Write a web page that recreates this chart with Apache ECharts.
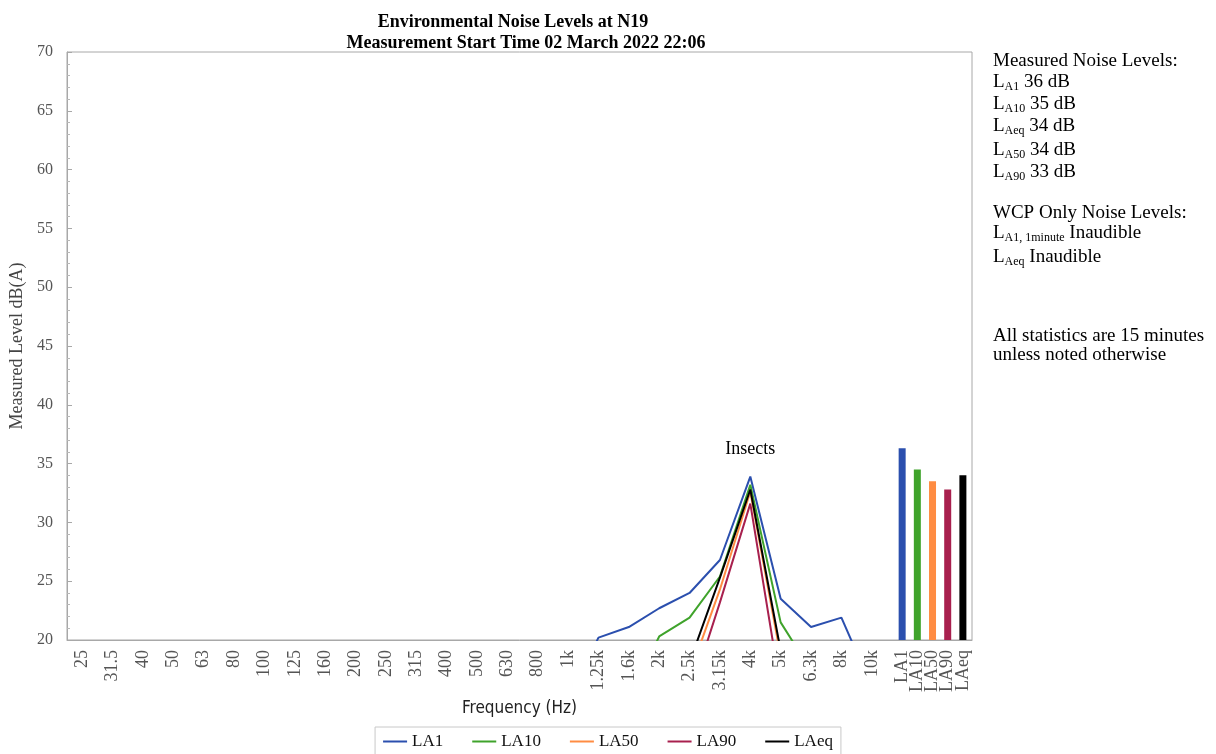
<!DOCTYPE html>
<html>
<head>
<meta charset="utf-8">
<script src="https://cdn.jsdelivr.net/npm/echarts@6/dist/echarts.min.js"></script>
<style>
html,body{margin:0;padding:0;background:#fff;}
#chart{width:1216px;height:754px;}
</style>
</head>
<body>
<div id="chart"></div>
<script>
// ---- data ----
const freqLabels = ['25','31.5','40','50','63','80','100','125','160','200','250','315','400','500','630','800','1k','1.25k','1.6k','2k','2.5k','3.15k','4k','5k','6.3k','8k','10k'];
const statLabels = ['LA1','LA10','LA50','LA90','LAeq'];
const la1  = [null,null,null,null,null,null,null,null,null,null,null,null,null,null,null,null,15.0,20.2,21.1,22.7,24.0,26.8,33.9,23.5,21.1,21.9,16.0];
const la10 = [null,null,null,null,null,null,null,null,null,null,null,null,null,null,null,null,null,null,15.0,20.3,21.9,25.4,33.2,21.5,17.4,null,null];
const la50 = [null,null,null,null,null,null,null,null,null,null,null,null,null,null,null,null,null,null,null,null,17.1,24.3,32.6,18.6,null,null,null];
const la90 = [null,null,null,null,null,null,null,null,null,null,null,null,null,null,null,null,null,null,null,null,15.2,23.2,31.6,15.8,null,null,null];
const laeq = [null,null,null,null,null,null,null,null,null,null,null,null,null,null,null,null,null,null,null,null,18.1,25.3,32.8,19.1,null,null,null];
const statValues = [36.3, 34.5, 33.5, 32.8, 34.0];
const seriesColors = ['#2b4fae', '#3fa32b', '#ff8c42', '#a8204e', '#000000'];
const annotationText = 'Insects';
const annotationFreq = '4k';
const annotationLevel = 36.2;

// ---- build ----
const statStart = freqLabels.length;      // first stat bar sits one step after 10k
const statStep = 0.5;
function statPos(i){ return statStart + i * statStep; }
function toPairs(arr){ return arr.map((v,i)=>[i, v]); }

const serif = '"Liberation Serif", "DejaVu Serif", serif';

const lineSeriesData = [la1, la10, la50, la90, laeq];
const series = lineSeriesData.map((arr, k) => ({
  name: statLabels[k],
  type: 'line',
  data: toPairs(arr),
  symbol: 'none',
  clip: true,
  lineStyle: { width: 2, color: seriesColors[k] },
  itemStyle: { color: seriesColors[k] },
  z: 3 + (k === 4 ? 1 : 0)
}));
series[0].markPoint = {
  symbol: 'circle',
  symbolSize: 1,
  itemStyle: { color: 'rgba(0,0,0,0)' },
  label: { show: true, position: 'inside', formatter: annotationText, fontFamily: serif, fontSize: 18, color: '#000' },
  data: [{ coord: [freqLabels.indexOf(annotationFreq), annotationLevel] }]
};
series.push({
  name: 'stats',
  type: 'bar',
  barWidth: 7,
  clip: true,
  data: statValues.map((v,i)=>({ value: [statPos(i), v], itemStyle: { color: seriesColors[i] } })),
  z: 2
});

function xLabel(v){
  const r = Math.round(v * 2) / 2;
  if (r >= 0 && r < statStart && Number.isInteger(r)) return freqLabels[r];
  if (r >= statStart) {
    const i = Math.round((r - statStart) / statStep);
    if (i >= 0 && i < statLabels.length) return statLabels[i];
  }
  return '';
}

const textLines = [
  { y: 52, parts: [['Measured Noise Levels:', null]] },
  { y: 73, parts: [['L', null], ['A1', 'sub'], [' 36 dB', null]] },
  { y: 95, parts: [['L', null], ['A10', 'sub'], [' 35 dB', null]] },
  { y: 117, parts: [['L', null], ['Aeq', 'sub'], [' 34 dB', null]] },
  { y: 141, parts: [['L', null], ['A50', 'sub'], [' 34 dB', null]] },
  { y: 163, parts: [['L', null], ['A90', 'sub'], [' 33 dB', null]] },
  { y: 204, parts: [['WCP Only Noise Levels:', null]] },
  { y: 224, parts: [['L', null], ['A1, 1minute', 'sub'], [' Inaudible', null]] },
  { y: 248, parts: [['L', null], ['Aeq', 'sub'], [' Inaudible', null]] },
  { y: 327, parts: [['All statistics are 15 minutes', null]] },
  { y: 346, parts: [['unless noted otherwise', null]] }
];
const graphics = textLines.map(l => ({
  type: 'text',
  left: 993,
  top: l.y,
  style: {
    text: l.parts.map(p => p[1] ? '{sub|' + p[0] + '}' : '{m|' + p[0] + '}').join(''),
    rich: {
      m: { fontFamily: serif, fontSize: 19, color: '#111', lineHeight: 20, verticalAlign: 'top' },
      sub: { fontFamily: serif, fontSize: 12, color: '#111', lineHeight: 14, padding: [8,0,0,0], verticalAlign: 'top' }
    }
  }
}));

const chart = echarts.init(document.getElementById('chart'), null, { renderer: 'canvas' });
chart.setOption({
  backgroundColor: '#fff',
  animation: false,
  title: [
    { text: 'Environmental Noise Levels at N19', left: 508, top: 8, textAlign: 'center',
      textStyle: { fontFamily: serif, fontWeight: 'bold', fontSize: 18, color: '#000' } },
    { text: 'Measurement Start Time 02 March 2022 22:06', left: 521, top: 29, textAlign: 'center',
      textStyle: { fontFamily: serif, fontWeight: 'bold', fontSize: 18, color: '#000' } }
  ],
  grid: { left: 67, right: 244, top: 52, bottom: 114, show: true, borderColor: '#a8a8a8', borderWidth: 1, containLabel: false, outerBoundsMode: 'none' },
  legend: {
    data: statLabels,
    left: 'center', top: 727,
    icon: 'rect', itemWidth: 24, itemHeight: 2, itemGap: 29,
    borderColor: '#c8c8c8', borderWidth: 1, padding: [6, 8, 8, 8],
    textStyle: { fontFamily: serif, fontSize: 17, color: '#111' }
  },
  xAxis: {
    type: 'value', min: -0.5, max: 29.3, interval: 0.5,
    name: 'Frequency (Hz)', nameLocation: 'middle', nameGap: 60,
    nameTextStyle: { fontFamily: '"Liberation Sans Narrow", "DejaVu Sans Condensed", "Liberation Sans", sans-serif', fontSize: 17, color: '#222' },
    axisLine: { show: true, onZero: false, lineStyle: { color: '#a8a8a8' } },
    axisTick: { show: false },
    splitLine: { show: false },
    axisLabel: { rotate: 90, margin: 10, fontFamily: serif, fontSize: 18, color: '#555', formatter: xLabel, showMinLabel: true, showMaxLabel: true, hideOverlap: false }
  },
  yAxis: {
    type: 'value', min: 20, max: 70, interval: 5,
    name: 'Measured Level dB(A)', nameLocation: 'middle', nameGap: 38,
    nameTextStyle: { fontFamily: serif, fontSize: 18, color: '#444' },
    axisLine: { show: true, onZero: false, lineStyle: { color: '#a8a8a8' } },
    axisTick: { show: true, inside: true, length: 5, lineStyle: { color: '#a8a8a8' } },
    minorTick: { show: true, splitNumber: 5, length: 3, lineStyle: { color: '#b8b8b8' } },
    splitLine: { show: false },
    axisLabel: { margin: 14, fontFamily: serif, fontSize: 16, color: '#555' }
  },
  graphic: graphics,
  series: series
});
</script>
</body>
</html>
